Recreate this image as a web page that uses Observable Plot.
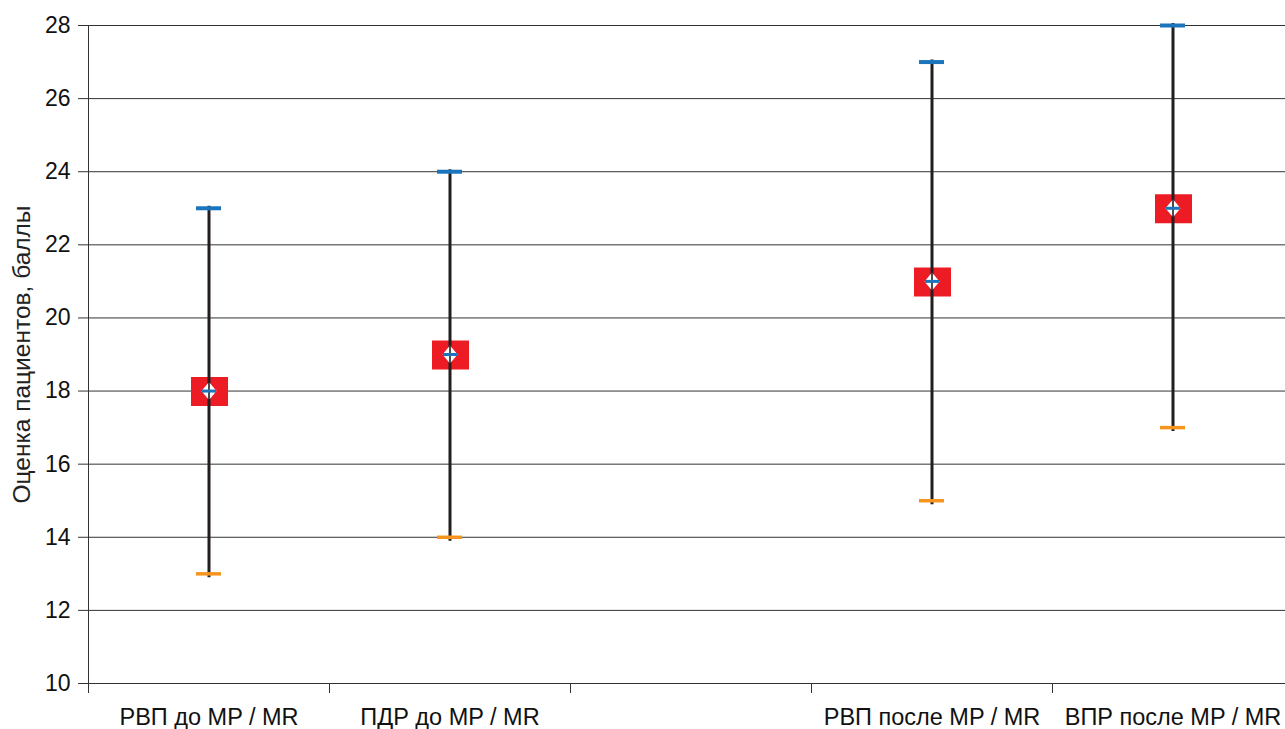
<!DOCTYPE html>
<html>
<head>
<meta charset="utf-8">
<script src="https://cdn.jsdelivr.net/npm/d3@7"></script>
<script src="https://cdn.jsdelivr.net/npm/@observablehq/plot@0.6"></script>
<style>
  html, body { margin: 0; padding: 0; background: #fff; overflow: hidden; }
  #chart svg { display: block; }
</style>
</head>
<body>
<div id="chart"></div>
<script>
const categories = ["РВП до MP / MR", "ПДР до MP / MR", "", "РВП после MP / MR", "ВПР после MP / MR"];
const groups = ["РВП до MP / MR", "ПДР до MP / MR", "РВП после MP / MR", "ВПР после MP / MR"];
const lowValues = [13, 14, 15, 17];
const highValues = [23, 24, 27, 28];
const meanValues = [18, 19, 21, 23];
const yTicks = [10, 12, 14, 16, 18, 20, 22, 24, 26, 28];

const data = groups.map((g, i) => ({group: g, low: lowValues[i], high: highValues[i], mean: meanValues[i]}));

const W = 1285, H = 729;
const mL = 88, mR = -8;
const bw = (W - mL - mR) / categories.length;
const capInset = (bw - 25) / 2;

const rectSym = {draw(ctx) { ctx.rect(-18, -14, 37, 29); }};
const diamondSym = {draw(ctx) { ctx.moveTo(0, -9); ctx.lineTo(7.5, 0); ctx.lineTo(0, 9); ctx.lineTo(-7.5, 0); ctx.closePath(); }};
const hlineSym = {draw(ctx) { ctx.moveTo(-7, 0); ctx.lineTo(7, 0); }};
const vlineSym = {draw(ctx) { ctx.moveTo(0, -9); ctx.lineTo(0, 9); }};

const chart = Plot.plot({
  width: W,
  height: H,
  marginLeft: mL,
  marginRight: mR,
  marginTop: 25,
  marginBottom: 46,
  style: {fontFamily: "'Liberation Sans', Arial, sans-serif", background: "#fff", overflow: "hidden"},
  x: {type: "band", domain: categories, padding: 0, label: null},
  y: {type: "linear", domain: [10, 28], ticks: yTicks, label: null},
  marks: [
    Plot.ruleY(yTicks, {y: d => d, stroke: "#333", strokeWidth: 1}),
    Plot.frame({anchor: "left", stroke: "#333"}),
    Plot.axisY({ticks: yTicks, tickSize: 10, tickPadding: 8, fontSize: 23, fill: "#111", stroke: "#333", label: null}),
    Plot.text(["Оценка пациентов, баллы"], {frameAnchor: "left", textAnchor: "middle", dx: -66, rotate: -90, fontSize: 24.5, fill: "#222"}),
    Plot.axisX({tickSize: 0, tickPadding: 25, fontSize: 23.5, fill: "#111", label: null}),
    Plot.ruleX(categories, {x: d => d, y1: 10, y2: 10, dx: -bw / 2, insetBottom: -10, stroke: "#333"}),
    Plot.ruleY([10], {stroke: "#333", strokeWidth: 1.2}),
    Plot.dot(data, {x: "group", y: "mean", symbol: rectSym, fill: "#ed1c24", stroke: "none"}),
    Plot.ruleX(data, {x: "group", y1: "high", y2: "low", stroke: "#231f20", strokeWidth: 3, insetTop: -2, insetBottom: -4}),
    Plot.tickY(data, {x: "group", y: "high", stroke: "#1a75bc", strokeWidth: 4, insetLeft: capInset, insetRight: capInset}),
    Plot.tickY(data, {x: "group", y: "low", stroke: "#f7941d", strokeWidth: 3.5, insetLeft: capInset, insetRight: capInset}),
    Plot.dot(data, {x: "group", y: "mean", symbol: diamondSym, fill: "#fff", stroke: "none"}),
    Plot.dot(data, {x: "group", y: "mean", symbol: vlineSym, fill: "none", stroke: "#111", strokeWidth: 1.5}),
    Plot.dot(data, {x: "group", y: "mean", symbol: hlineSym, fill: "none", stroke: "#1a75bc", strokeWidth: 3})
  ]
});
document.getElementById("chart").appendChild(chart);
</script>
</body>
</html>
